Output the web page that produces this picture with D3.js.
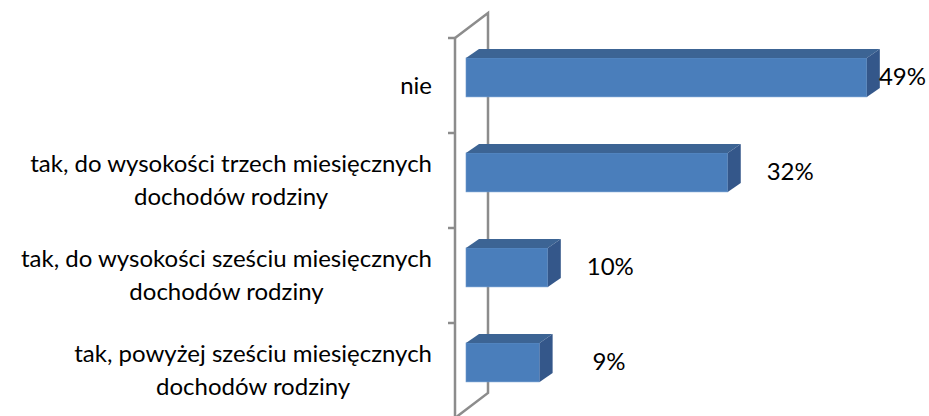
<!DOCTYPE html>
<html lang="pl">
<head>
    <meta charset="UTF-8">
    <title>Oszczędności</title>
    <script src="https://d3js.org/d3.v7.min.js"></script>
    <style>
        body { margin: 0; background: #fff; }
        text { font-family: Lato, "Open Sans", sans-serif; fill: #000; }
    </style>
</head>
<body>
<svg id="chart" width="929" height="416"></svg>
<script>
    // categories (each entry = lines of the label) and values in %
    const categories = ["nie", "trzy", "szesc", "powyzej"];
    const labelLines = [
        ["nie"],
        ["tak, do wysokości trzech miesięcznych", "dochodów rodziny"],
        ["tak, do wysokości sześciu miesięcznych", "dochodów rodziny"],
        ["tak, powyżej sześciu miesięcznych", "dochodów rodziny"]
    ];
    const values = [49, 32, 10, 9];

    const width = 929, height = 416;
    const svg = d3.select("#chart");

    const y = d3.scaleBand().domain(categories).range([38, 418]);
    const x = d3.scaleLinear().domain([0, 50]).range([466, 875]);

    // 3d offsets
    const wallDx = 33, wallDy = -25;
    const barDx = 13, barDy = -9;
    const axisColor = "#8c8c8c";

    // axis "wall" (front line, back line, the two diagonals)
    const axisX = 455;
    const yTop = y.range()[0], yBottom = y.range()[1];
    const g = svg.append("g").attr("stroke", axisColor).attr("stroke-width", 2.5).attr("fill", "none");
    g.append("path").attr("d", `M${axisX},${yTop}V${yBottom}`);
    g.append("path").attr("d", `M${axisX},${yTop}L${axisX + wallDx},${yTop + wallDy}V${yBottom + wallDy}L${axisX},${yBottom}`);

    // ticks on category boundaries
    const tickYs = categories.map(c => y(c)).concat([yBottom]);
    g.selectAll(".tick").data(tickYs).join("line")
        .attr("x1", axisX - 7).attr("x2", axisX)
        .attr("y1", d => d).attr("y2", d => d);

    // bars
    const barTop = c => y(c) + y.bandwidth() * 0.21;
    const barH = y.bandwidth() * 0.41;
    const bars = svg.selectAll(".bar").data(categories).join("g").attr("class", "bar");

    bars.append("rect")
        .attr("x", x(0))
        .attr("y", c => barTop(c))
        .attr("width", (c, i) => x(values[i]) - x(0))
        .attr("height", barH)
        .attr("fill", "#4a7ebb")
        .attr("stroke", "#6a96cc").attr("stroke-width", 0.6);

    bars.append("path")
        .attr("fill", "#3c6494")
        .attr("d", (c, i) => {
            const x0 = x(0), x1 = x(values[i]), y0 = barTop(c);
            return `M${x0},${y0}L${x0 + barDx},${y0 + barDy}H${x1 + barDx}L${x1},${y0}Z`;
        });

    bars.append("path")
        .attr("fill", "#34578a")
        .attr("d", (c, i) => {
            const x1 = x(values[i]), y0 = barTop(c), y1 = y0 + barH;
            return `M${x1},${y0}L${x1 + barDx},${y0 + barDy}V${y1 + barDy}L${x1},${y1}Z`;
        });

    // value labels
    svg.selectAll(".val").data(categories).join("text")
        .attr("class", "val")
        .attr("text-anchor", "end")
        .attr("font-size", 24)
        .attr("x", (c, i) => Math.min(x(values[i]) + 86, width - 3))
        .attr("y", c => barTop(c) + barH / 2 + 8)
        .text((c, i) => values[i] + "%");

    // category labels: block right aligned, lines centred to each other
    const labelRight = 432, lineH = 33;
    categories.forEach((c, i) => {
        const lines = labelLines[i];
        const t = svg.append("g").attr("font-size", 24);
        const mid = y(c) + y.bandwidth() / 2;
        const first = mid + 8 - (lines.length - 1) * lineH / 2;
        const nodes = lines.map((s, k) => t.append("text").attr("y", first + k * lineH).text(s));
        const maxW = d3.max(nodes, n => n.node().getComputedTextLength());
        nodes.forEach(n => n.attr("text-anchor", "middle").attr("x", labelRight - maxW / 2));
    });
</script>
</body>
</html>
